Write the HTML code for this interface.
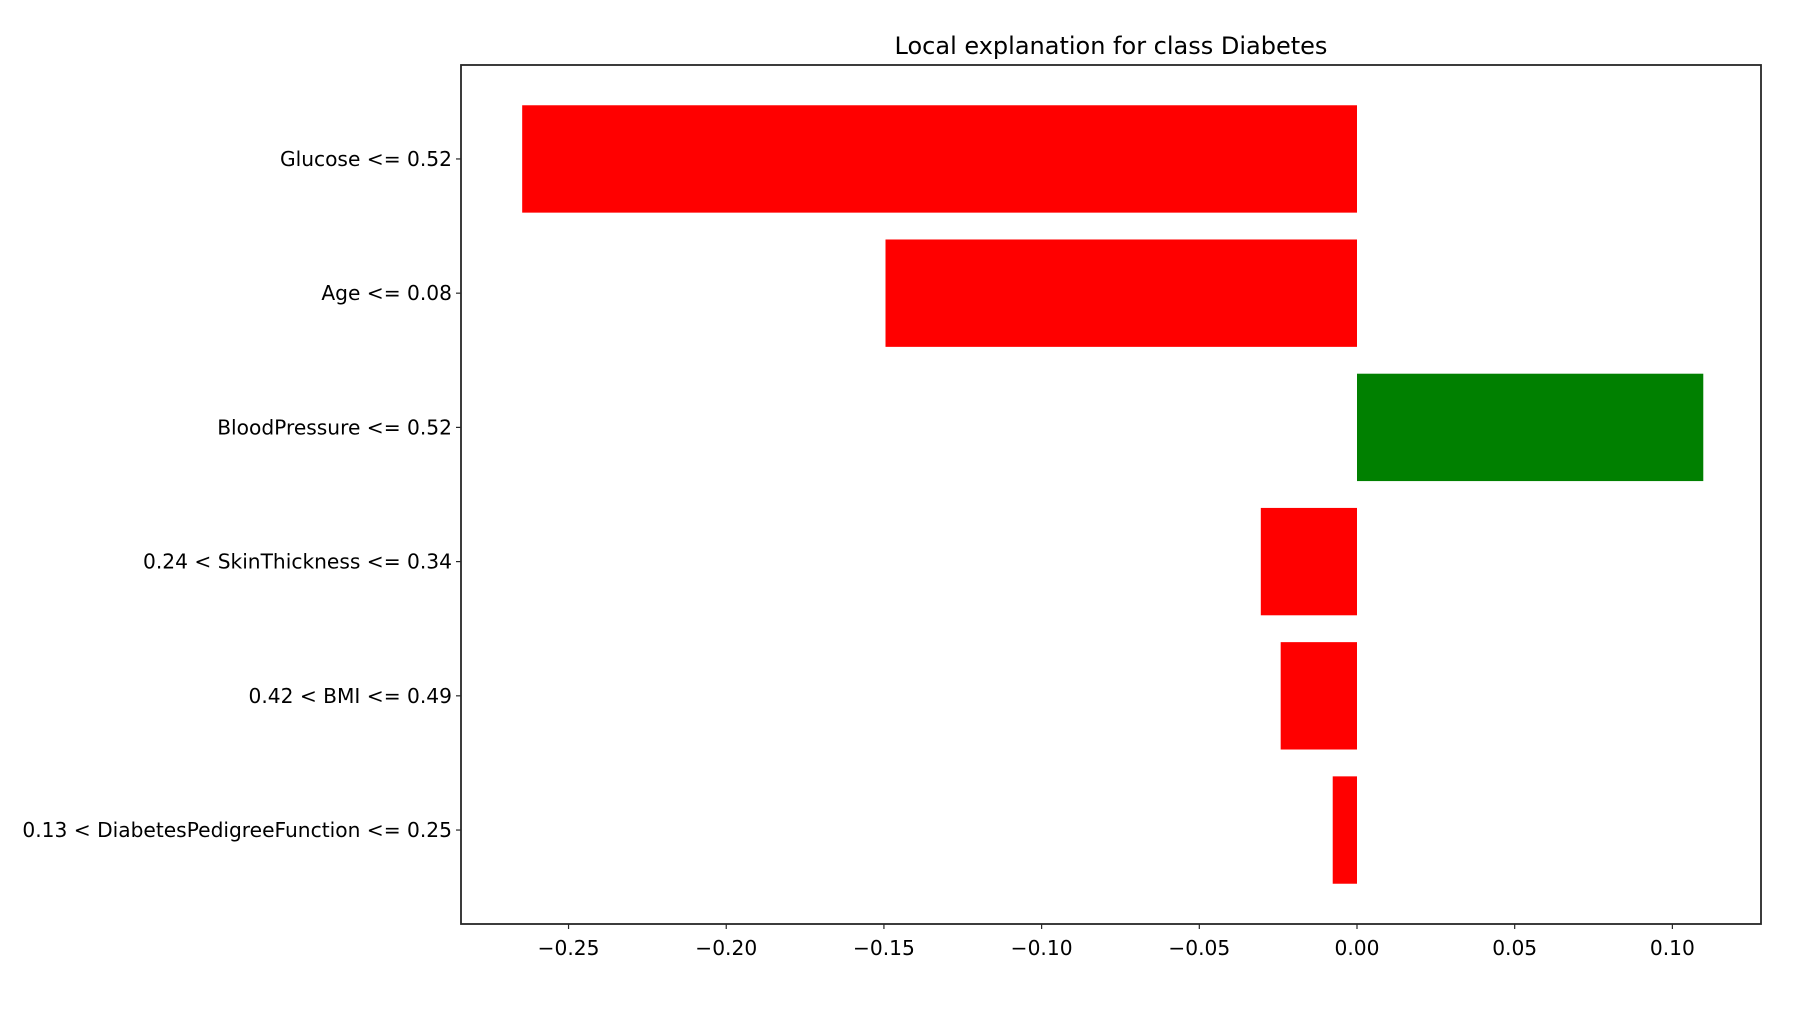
<!DOCTYPE html>
<html><head><meta charset="utf-8"><style>
body{margin:0;background:#fff}
svg text{font-family:"DejaVu Sans","Liberation Sans",sans-serif;fill:#000}
</style></head><body>
<svg id="chart" width="1814" height="1010" viewBox="0 0 1814 1010" xmlns="http://www.w3.org/2000/svg">
<rect width="1814" height="1010" fill="#fff"/>
<text x="1111" y="54" font-size="24" text-anchor="middle">Local explanation for class Diabetes</text>
<g id="bars"></g>
<g id="ticks"></g>
<rect x="461" y="65" width="1300" height="859" fill="none" stroke="#262626" stroke-width="1.8"/>
</svg>
<script>
const categories = ["Glucose <= 0.52","Age <= 0.08","BloodPressure <= 0.52","0.24 < SkinThickness <= 0.34","0.42 < BMI <= 0.49","0.13 < DiabetesPedigreeFunction <= 0.25"];
const values = [-0.2647,-0.1495,0.1098,-0.0305,-0.0242,-0.0077];
const xTicks = [-0.25,-0.20,-0.15,-0.10,-0.05,0.00,0.05,0.10];
const xTickLabels = ["\u22120.25","\u22120.20","\u22120.15","\u22120.10","\u22120.05","0.00","0.05","0.10"];

const L=461,R=1761,T=65,B=924;
const xMin=-0.2841,xMax=0.1281;
const x=v=>L+(v-xMin)/(xMax-xMin)*(R-L);
const n=categories.length;
const yMin=-0.7,yMax=n-1+0.7;
const y=i=>T+(i-yMin)/(yMax-yMin)*(B-T);
const band=(B-T)/(yMax-yMin);
const NS="http://www.w3.org/2000/svg";
const bars=document.getElementById('bars'), ticks=document.getElementById('ticks');
function mk(tag,attrs,parent){const e=document.createElementNS(NS,tag);for(const k in attrs)e.setAttribute(k,attrs[k]);parent.appendChild(e);return e;}
values.forEach((v,i)=>{
  const h=band*0.8;
  const r=mk('rect',{x:Math.min(x(0),x(v)),y:y(i)-h/2,width:Math.abs(x(v)-x(0)),height:h,fill:v>=0?'#008000':'#ff0000'},bars);
  
  
  const tl=mk('line',{x1:L-5,x2:L,y1:y(i),y2:y(i),stroke:'#262626','stroke-width':1.2},ticks);
  
  
  const t=mk('text',{x:L-9,y:y(i)+7,'font-size':20.2,'text-anchor':'end'},ticks);
  t.textContent=categories[i];
  
  
});
xTicks.forEach((v,i)=>{
  const tl=mk('line',{x1:x(v),x2:x(v),y1:B,y2:B+5,stroke:'#262626','stroke-width':1.2},ticks);
  
  
  const t=mk('text',{x:x(v),y:B+31,'font-size':20.2,'text-anchor':'middle'},ticks);
  t.textContent=xTickLabels[i];
  
  
});
</script>
</body></html>
